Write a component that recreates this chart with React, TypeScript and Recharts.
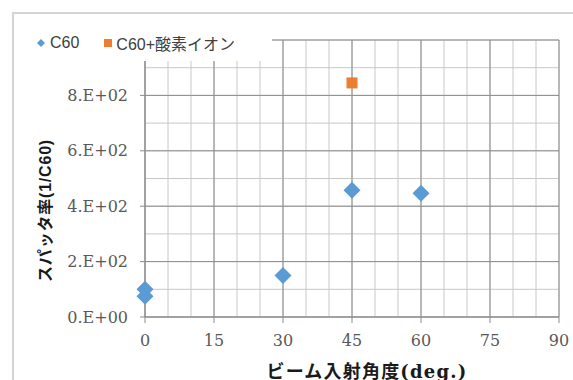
import React from "react";
import {
  ScatterChart,
  Scatter,
  XAxis,
  YAxis,
  CartesianGrid,
  Legend,
} from "recharts";

// Sputter yield vs. beam incidence angle
const c60Angles = [0, 0, 30, 45, 60];
const c60Yields = [100, 75, 150, 458, 447];
const oxyAngles = [45];
const oxyYields = [845];

const xTicks = [0, 15, 30, 45, 60, 75, 90];
const yTicks = [0, 200, 400, 600, 800];
const xMajor = [0, 15, 30, 45, 60, 75, 90];
const yMajor = [0, 200, 400, 600, 800, 1000];
const xMinor = [0, 5, 10, 15, 20, 25, 30, 35, 40, 45, 50, 55, 60, 65, 70, 75, 80, 85, 90];
const yMinor = [0, 50, 100, 150, 200, 250, 300, 350, 400, 450, 500, 550, 600, 650, 700, 750, 800, 850, 900, 950, 1000];

const seriesNames = ["C60", "C60+酸素イオン"];
const BLUE = "#5b9bd5";
const ORANGE = "#ed7d31";

const c60Data = c60Angles.map((x, i) => ({ x, y: c60Yields[i] }));
const oxyData = oxyAngles.map((x, i) => ({ x, y: oxyYields[i] }));

const W = 573;
const H = 380;

const serif = "'DejaVu Serif', 'Liberation Serif', serif";
const sans = "'Liberation Sans', Arial, 'Noto Sans CJK JP', sans-serif";
const jpBold = "'DejaVu Serif', 'Noto Sans CJK JP', serif";

const fmtExp = (v: number) => {
  if (v === 0) return "0.E+00";
  const e = Math.floor(Math.log10(v));
  const m = Math.round(v / Math.pow(10, e));
  return `${m}.E+${String(e).padStart(2, "0")}`;
};

const Diamond = (props: any) => {
  const { cx, cy } = props;
  const r = 8.5;
  return (
    <polygon
      points={`${cx},${cy - r} ${cx + r},${cy} ${cx},${cy + r} ${cx - r},${cy}`}
      fill={BLUE}
    />
  );
};

const Square = (props: any) => {
  const { cx, cy } = props;
  const s = 11;
  return <rect x={cx - s / 2} y={cy - s / 2} width={s} height={s} fill={ORANGE} />;
};

// white box sits on top of the grid's upper-left corner
const renderLegend = () => (
  <div
    style={{
      background: "#fff",
      width: 252,
      height: 36,
      display: "flex",
      alignItems: "center",
      fontFamily: sans,
      fontSize: 16,
      color: "#404040",
      paddingLeft: 16,
      boxSizing: "border-box",
    }}
  >
    <svg width={10} height={10} style={{ marginRight: 4 }}>
      <polygon points="5,1 9,5 5,9 1,5" fill={BLUE} />
    </svg>
    <span style={{ marginRight: 24 }}>{seriesNames[0]}</span>
    <svg width={10} height={10} style={{ marginRight: 3 }}>
      <rect x={1} y={1} width={8} height={8} fill={ORANGE} />
    </svg>
    <span>{seriesNames[1]}</span>
  </div>
);

const YTitle = (props: any) => {
  const { viewBox } = props;
  const x = viewBox.x + 45;
  const y = viewBox.y + viewBox.height / 2 + 32;
  return (
    <text
      x={x}
      y={y}
      transform={`rotate(-90 ${x} ${y})`}
      textAnchor="middle"
      dominantBaseline="central"
      fontFamily={sans}
      fontWeight={700}
      fontSize={16}
      letterSpacing={0.8}
      fill="#1a1a1a"
    >
      スパッタ率(1/C60)
    </text>
  );
};

const XTitle = (props: any) => {
  const { viewBox } = props;
  const x = viewBox.x + viewBox.width / 2 + 15;
  const y = viewBox.y + 54;
  return (
    <text
      x={x}
      y={y}
      textAnchor="middle"
      dominantBaseline="central"
      fontFamily={jpBold}
      fontWeight={700}
      fontSize={18}
      letterSpacing={1.2}
      fill="#1a1a1a"
    >
      ビーム入射角度(deg.)
    </text>
  );
};

export default function App() {
  return (
    <div style={{ position: "absolute", left: 0, top: 0, width: W, height: H, background: "#fff", overflow: "hidden" }}>
      <div
        style={{
          position: "absolute",
          left: 12,
          top: 12,
          width: W,
          height: H,
          borderTop: "2px solid #d4d4d4",
          borderLeft: "2px solid #d4d4d4",
        }}
      />
      <ScatterChart
        width={W}
        height={H}
        margin={{ top: 40, right: 14, left: 0, bottom: 0 }}
        style={{ position: "absolute", left: 0, top: 0 }}
      >
        <CartesianGrid
          horizontalValues={yMinor}
          verticalValues={xMinor}
          stroke="#c8c8c8"
          strokeWidth={1}
        />
        <CartesianGrid
          horizontalValues={yMajor}
          verticalValues={xMajor}
          stroke="#8c8c8c"
          strokeWidth={1}
        />
        <XAxis
          type="number"
          dataKey="x"
          domain={[0, 90]}
          ticks={xTicks}
          height={63}
          tickSize={6}
          tickMargin={12}
          axisLine={{ stroke: "#8c8c8c" }}
          tickLine={{ stroke: "#8c8c8c" }}
          tick={{ fontFamily: serif, fontSize: 16, fill: "#595959" }}
          label={<XTitle />}
        />
        <YAxis
          type="number"
          dataKey="y"
          domain={[0, 1000]}
          ticks={yTicks}
          width={145}
          tickSize={5}
          tickMargin={12}
          tickFormatter={fmtExp}
          axisLine={{ stroke: "#8c8c8c" }}
          tickLine={{ stroke: "#8c8c8c" }}
          tick={{ fontFamily: serif, fontSize: 16, fill: "#595959" }}
          label={<YTitle />}
        />
        <Legend
          content={renderLegend}
          layout="horizontal"
          verticalAlign="middle"
          align="center"
          wrapperStyle={{ position: "absolute", left: 20, top: 25, width: 252, height: 36 }}
        />
        <Scatter name={seriesNames[0]} data={c60Data} shape={<Diamond />} isAnimationActive={false} />
        <Scatter name={seriesNames[1]} data={oxyData} shape={<Square />} isAnimationActive={false} />
      </ScatterChart>
    </div>
  );
}
